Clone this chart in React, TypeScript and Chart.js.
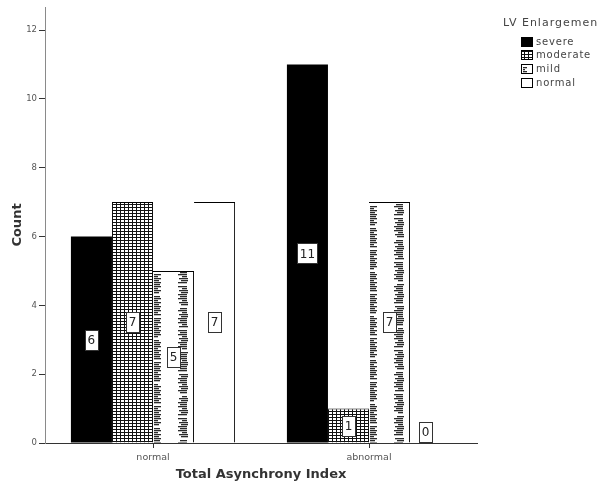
import React, { useEffect, useRef } from 'react';
import { Chart, registerables } from 'chart.js';

Chart.register(...registerables);

const categories = ['normal', 'abnormal'];
const seriesNames = ['severe', 'moderate', 'mild', 'normal'];
const severeCounts = [6, 11];
const moderateCounts = [7, 1];
const mildCounts = [5, 7];
const normalCounts = [7, 0];
const yTickValues = [0, 2, 4, 6, 8, 10, 12];
const yMax = 12.67;
const legendTitle = 'LV Enlargemen';
const xTitle = 'Total Asynchrony Index';
const yTitle = 'Count';

const FONT = 'DejaVu Sans';

function makeGridPattern(ctx: CanvasRenderingContext2D) {
  const c = document.createElement('canvas');
  c.width = 4;
  c.height = 3;
  const g = c.getContext('2d')!;
  g.fillStyle = '#fff';
  g.fillRect(0, 0, 4, 3);
  g.fillStyle = '#111';
  g.fillRect(0, 0, 4, 1);
  g.fillRect(0, 0, 1, 3);
  return ctx.createPattern(c, 'repeat')!;
}

function drawMildMarks(ctx: CanvasRenderingContext2D, left: number, top: number, right: number, bottom: number, cols: number[][]) {
  ctx.save();
  ctx.beginPath();
  ctx.rect(left, top, right - left, bottom - top);
  ctx.clip();
  ctx.fillStyle = '#2a2a2a';
  const lens = [1, 0.8, 1, 0.6, 0.95, 0.75];
  cols.forEach(([a, b], ci) => {
    let k = 0;
    for (let y = Math.floor(top) + 1; y < bottom; y += 2) {
      const rel = (y - Math.floor(top) + ci * 9) % 22;
      k++;
      if (rel < 2) continue;
      const len = (b - a) * lens[k % lens.length];
      const x0 = ci === 0 ? a : b - len;
      ctx.fillRect(Math.round(x0), y, Math.max(1, Math.round(len)), 1.3);
    }
  });
  ctx.restore();
}

const mildPlugin = {
  id: 'mildMarks',
  afterDatasetDraw(chart: any, args: any) {
    if (args.index !== 2) return;
    const ctx = chart.ctx;
    args.meta.data.forEach((el: any) => {
      const w = el.width;
      const left = el.x - w / 2;
      const right = el.x + w / 2 - 1;
      const top = el.y + 1;
      const bottom = el.base;
      if (bottom - top < 1) return;
      drawMildMarks(ctx, left, top, right, bottom, [
        [left + 1, left + 8],
        [left + w * 0.62, left + w * 0.84],
      ]);
    });
  },
};

const valueLabelPlugin = {
  id: 'valueLabels',
  afterDatasetsDraw(chart: any) {
    const ctx = chart.ctx;
    ctx.save();
    ctx.font = `12px "${FONT}"`;
    ctx.textAlign = 'center';
    ctx.textBaseline = 'middle';
    chart.data.datasets.forEach((ds: any, i: number) => {
      const meta = chart.getDatasetMeta(i);
      meta.data.forEach((el: any, j: number) => {
        const v = ds.data[j];
        const text = String(v);
        const tw = ctx.measureText(text).width;
        const bw = Math.round(tw + 5);
        const bh = 20;
        const cx = v > 0 ? el.x : el.x - 5;
        const cy = v > 0 ? (el.y + el.base) / 2 : el.base - bh / 2 - 1;
        const x0 = Math.round(cx - bw / 2) + 0.5;
        const y0 = Math.round(cy - bh / 2) + 0.5;
        ctx.fillStyle = '#fff';
        ctx.fillRect(x0, y0, bw, bh);
        ctx.strokeStyle = '#333';
        ctx.lineWidth = 1;
        ctx.strokeRect(x0, y0, bw, bh);
        ctx.fillStyle = '#222';
        ctx.fillText(text, cx, cy + 1);
      });
    });
    ctx.restore();
  },
};

const legendPlugin = {
  id: 'customLegend',
  afterDraw(chart: any) {
    const ctx = chart.ctx;
    ctx.save();
    ctx.fillStyle = '#444';
    ctx.textBaseline = 'middle';
    ctx.textAlign = 'left';
    ctx.font = `11px "${FONT}"`;
    try { (ctx as any).letterSpacing = '1px'; } catch (e) {}
    ctx.fillText(legendTitle, 503, 23);
    ctx.font = `10px "${FONT}"`;
    try { (ctx as any).letterSpacing = '0.8px'; } catch (e) {}
    const rows = [42, 55, 69, 83];
    chart.data.datasets.forEach((ds: any, i: number) => {
      const cy = rows[i];
      const x = 521.5;
      const y = cy - 4.5;
      const w = 11;
      const h = 9;
      if (i === 0) {
        ctx.fillStyle = '#000';
        ctx.fillRect(x - 0.5, y - 0.5, w + 1, h + 1);
      } else if (i === 1) {
        ctx.fillStyle = ds.backgroundColor;
        ctx.fillRect(x, y, w, h);
        ctx.strokeStyle = '#000';
        ctx.lineWidth = 1;
        ctx.strokeRect(x, y, w, h);
      } else {
        ctx.fillStyle = '#fff';
        ctx.fillRect(x, y, w, h);
        if (i === 2) drawMildMarks(ctx, x, y, x + w, y + h, [[x + 1, x + 5]]);
        ctx.strokeStyle = '#000';
        ctx.lineWidth = 1;
        ctx.strokeRect(x, y, w, h);
      }
      ctx.fillStyle = '#444';
      ctx.fillText(ds.label, 536, cy);
    });
    ctx.restore();
  },
};

export default function App() {
  const canvasRef = useRef<HTMLCanvasElement | null>(null);

  useEffect(() => {
    const canvas = canvasRef.current!;
    const ctx = canvas.getContext('2d')!;
    const grid = makeGridPattern(ctx);
    const chart = new Chart(canvas, {
      type: 'bar',
      data: {
        labels: categories,
        datasets: [
          { label: seriesNames[0], data: severeCounts, backgroundColor: '#000', borderWidth: 0 },
          { label: seriesNames[1], data: moderateCounts, backgroundColor: grid as any, borderColor: '#000', borderWidth: { top: 1, left: 0, right: 0, bottom: 0 } as any },
          { label: seriesNames[2], data: mildCounts, backgroundColor: '#fff', borderColor: '#000', borderWidth: { top: 1, left: 0, right: 1, bottom: 0 } as any },
          { label: seriesNames[3], data: normalCounts, backgroundColor: '#fff', borderColor: '#000', borderWidth: { top: 1, left: 0, right: 1, bottom: 0 } as any },
        ],
      },
      options: {
        responsive: false,
        animation: false,
        devicePixelRatio: 1,
        datasets: { bar: { categoryPercentage: 0.76, barPercentage: 1 } },
        layout: { padding: { top: 7, right: 125, bottom: 0, left: 0 } },
        plugins: { legend: { display: false }, tooltip: { enabled: false } },
        scales: {
          x: {
            offset: true,
            afterFit: (s: any) => { s.height = 42; s.paddingLeft = 0; s.paddingRight = 0; },
            border: { color: '#333', width: 1 },
            grid: { offset: false, drawOnChartArea: false, tickLength: 5, tickColor: '#333', tickWidth: 1 },
            ticks: { font: { family: FONT, size: 9.5 }, color: '#555', padding: 4, maxRotation: 0 },
            title: { display: true, text: xTitle, font: { family: FONT, size: 13, weight: 'bold' }, color: '#333', padding: { top: 0, bottom: 3 } },
          },
          y: {
            min: 0,
            max: yMax,
            afterBuildTicks: (s: any) => { s.ticks = yTickValues.map((v) => ({ value: v })); },
            afterFit: (s: any) => { s.width = 45; s.paddingTop = 0; s.paddingBottom = 0; },
            border: { color: '#8a8a8a', width: 1 },
            grid: { drawOnChartArea: false, tickLength: 6, tickColor: '#333', tickWidth: 1 },
            ticks: { font: { family: FONT, size: 8.5 }, color: '#555', padding: 2 },
            title: { display: true, text: yTitle, font: { family: FONT, size: 13, weight: 'bold' }, color: '#333', padding: { top: 10, bottom: 0 } },
          },
        },
      },
      plugins: [mildPlugin, valueLabelPlugin, legendPlugin],
    });
    return () => chart.destroy();
  }, []);

  return (
    <div style={{ position: 'fixed', left: 0, top: 0, width: 602, height: 485, background: '#fff' }}>
      <canvas ref={canvasRef} width={602} height={485} />
    </div>
  );
}
